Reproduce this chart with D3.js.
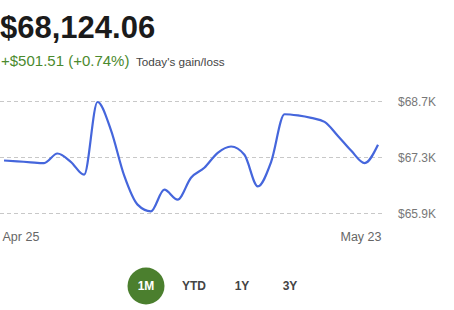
<!DOCTYPE html>
<html>
<head>
<meta charset="utf-8">
<script src="https://cdn.jsdelivr.net/npm/d3@7"></script>
<style>
  body { margin: 0; background: #fff; }
  text { font-family: "Liberation Sans", Arial, sans-serif; }
</style>
</head>
<body>
<div class="chart"></div>
<script>
let days = d3.timeDays(new Date(2024, 3, 25), new Date(2024, 4, 24));
let values = [67213, 67193, 67168, 67148, 67387, 67180, 66857, 68675, 67978, 66832,
  66109, 65942, 66483, 66234, 66782, 67031, 67405, 67562, 67355, 66565,
  67180, 68369, 68339, 68277, 68177, 67828, 67454, 67148, 67604];
let yTicks = [65900, 67300, 68700];
let xTicks = [new Date(2024, 3, 25), new Date(2024, 4, 23)];
let ranges = ['1M', 'YTD', '1Y', '3Y'];

let width = 454;
let height = 310;

let svg = d3.select('.chart')
  .append('svg')
    .attr('width', width)
    .attr('height', height);

// header
svg.append('text')
  .attr('x', 0)
  .attr('y', 38)
  .style('font-size', '31px')
  .style('font-weight', 'bold')
  .style('fill', '#1b1b1b')
  .text('$68,124.06');

let sub = svg.append('text')
  .attr('x', 1)
  .attr('y', 66);
sub.append('tspan')
  .style('font-size', '15px')
  .style('fill', '#4b8a2e')
  .text('+$501.51 (+0.74%)');
sub.append('tspan')
  .attr('x', 136)
  .style('font-size', '11.7px')
  .style('fill', '#444')
  .text("Today's gain/loss");

let xScale = d3.scaleTime()
  .domain([days[0], days[days.length - 1]])
  .range([4, 378]);

let yScale = d3.scaleLinear()
  .domain([65900, 68700])
  .range([213, 101]);

let fmt = v => '$' + (v / 1000).toFixed(1) + 'K';

let yAxis = d3.axisRight(yScale)
  .tickValues(yTicks)
  .tickSize(382)
  .tickPadding(16)
  .tickFormat(fmt);

svg.append('g')
  .call(yAxis)
  .call(g => g.select('.domain').remove())
  .call(g => g.selectAll('.tick line')
    .attr('stroke', '#c8c8c8')
    .attr('stroke-dasharray', '4,3'))
  .call(g => g.selectAll('.tick text')
    .attr('dy', '0.35em')
    .style('font-size', '12px')
    .style('fill', '#777'));

let xAxis = d3.axisBottom(xScale)
  .tickValues(xTicks)
  .tickSize(0)
  .tickFormat(d3.timeFormat('%b %d'));

svg.append('g')
  .attr('transform', 'translate(0, 229)')
  .call(xAxis)
  .call(g => g.select('.domain').remove())
  .call(g => g.selectAll('.tick text')
    .style('font-size', '12.5px')
    .style('fill', '#666')
    .attr('text-anchor', (d, i) => i === 0 ? 'start' : 'end')
    .attr('dx', (d, i) => i === 0 ? -2 : 3));

let line = d3.line()
  .x((d, i) => xScale(days[i]))
  .y(d => yScale(d))
  .curve(d3.curveMonotoneX);

svg.append('path')
  .datum(values)
  .attr('d', line)
  .attr('fill', 'none')
  .attr('stroke', '#4566dc')
  .attr('stroke-width', 2.2)
  .attr('stroke-linejoin', 'round');

// range buttons
let bScale = d3.scalePoint()
  .domain(ranges)
  .range([146, 290]);

let btn = svg.append('g')
  .selectAll('g')
  .data(ranges)
  .join('g')
    .attr('transform', d => `translate(${bScale(d)}, 286)`);

btn.filter(d => d === '1M')
  .append('circle')
  .attr('r', 18.5)
  .attr('fill', '#4b7f2e');

btn.append('text')
  .attr('text-anchor', 'middle')
  .attr('dy', '0.36em')
  .style('font-size', '12px')
  .style('font-weight', 'bold')
  .style('fill', d => d === '1M' ? '#fff' : '#444')
  .text(d => d);
</script>
</body>
</html>
